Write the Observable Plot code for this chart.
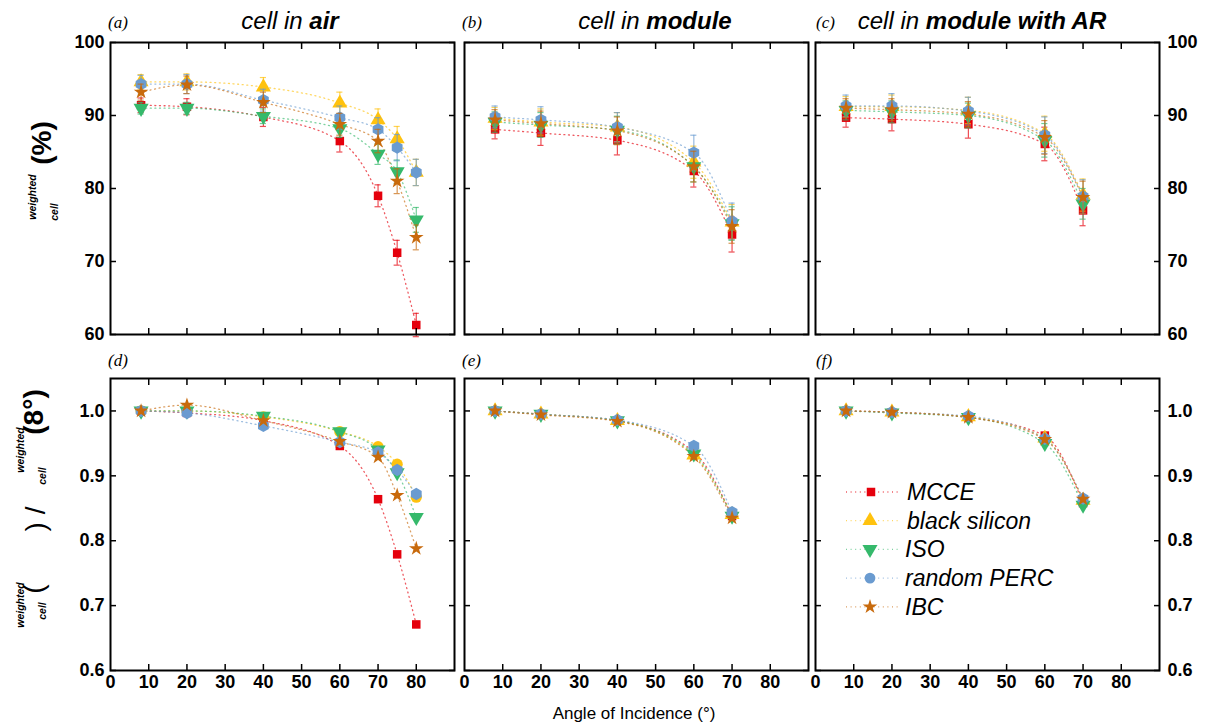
<!DOCTYPE html>
<html><head><meta charset="utf-8">
<script src="https://cdn.jsdelivr.net/npm/d3@7"></script>
<script src="https://cdn.jsdelivr.net/npm/@observablehq/plot@0.6"></script>
<style>
body{margin:0;background:#fff;}
#fig{position:relative;width:1207px;height:725px;overflow:hidden;font-family:"Liberation Sans",Arial,sans-serif;}
#overlay{position:absolute;left:0;top:0;pointer-events:none;}
</style></head><body><div id="fig"></div>
<script>
// ---- data ----
const seriesNames = ["MCCE", "black silicon", "ISO", "random PERC", "IBC"];
const seriesColors = ["#e5000c", "#ffc20e", "#35b96b", "#6a9bd0", "#c86a0c"];
const anglesAir = [8, 20, 40, 60, 70, 75, 80];
const anglesModule = [8, 20, 40, 60, 70];
const xTickVals = [10, 20, 30, 40, 50, 60, 70, 80];
const xLabelVals = [0, 10, 20, 30, 40, 50, 60, 70, 80];
const effTicks = [60, 70, 80, 90, 100];
const normTicks = [0.6, 0.7, 0.8, 0.9, 1.0];

// (a) cell in air, efficiency (%)
const effAir = [
  [91.4, 91.2, 89.8, 86.5, 79.0, 71.2, 61.3],
  [94.6, 94.6, 93.9, 91.7, 89.4, 86.8, 82.2],
  [91.0, 91.0, 89.9, 88.2, 84.7, 82.3, 75.7],
  [94.3, 94.3, 92.1, 89.7, 88.1, 85.6, 82.2],
  [93.2, 94.2, 91.8, 88.8, 86.5, 81.0, 73.3]
];
const errAir = [
  [1.0, 1.1, 1.3, 1.5, 1.5, 1.7, 1.6],
  [1.0, 1.1, 1.3, 1.5, 1.5, 1.7, 1.8],
  [0.8, 0.8, 1.0, 1.2, 1.4, 1.6, 1.7],
  [1.2, 1.3, 1.5, 1.6, 1.6, 1.8, 1.8],
  [1.1, 1.2, 1.4, 1.5, 1.6, 1.7, 1.7]
];
// (b) cell in module
const effModule = [
  [88.1, 87.6, 86.6, 82.4, 73.7],
  [89.6, 89.1, 88.4, 83.6, 75.4],
  [89.1, 88.7, 88.0, 83.0, 75.2],
  [89.8, 89.4, 88.4, 84.9, 75.5],
  [89.4, 88.9, 87.9, 83.0, 74.8]
];
const errModule = [
  [1.3, 1.7, 2.0, 2.2, 2.4],
  [1.5, 1.8, 2.0, 2.2, 2.4],
  [1.4, 1.7, 1.9, 2.1, 2.3],
  [1.5, 1.8, 2.0, 2.4, 2.5],
  [1.4, 1.7, 1.9, 2.1, 2.3]
];
// (c) cell in module with AR
const effModuleAR = [
  [89.7, 89.5, 88.8, 86.1, 77.0],
  [91.2, 91.2, 90.7, 87.5, 79.1],
  [90.7, 90.5, 90.0, 86.6, 77.9],
  [91.3, 91.3, 90.6, 87.3, 78.9],
  [91.0, 90.8, 90.2, 87.0, 78.8]
];
const errModuleAR = [
  [1.3, 1.6, 1.9, 2.3, 2.1],
  [1.4, 1.6, 1.8, 2.4, 2.2],
  [1.3, 1.5, 1.7, 2.3, 2.1],
  [1.5, 1.7, 1.9, 2.5, 2.3],
  [1.3, 1.5, 1.7, 2.3, 2.2]
];
// (d)(e)(f) normalised to 8°
const normAir = [
  [1.0, 0.997, 0.985, 0.946, 0.864, 0.779, 0.671],
  [1.0, 1.000, 0.991, 0.968, 0.945, 0.918, 0.867],
  [1.0, 1.000, 0.992, 0.968, 0.940, 0.905, 0.836],
  [1.0, 0.997, 0.977, 0.952, 0.936, 0.909, 0.872],
  [1.0, 1.009, 0.985, 0.953, 0.929, 0.870, 0.788]
];
const normModule = [
  [1.0, 0.995, 0.985, 0.937, 0.838],
  [1.0, 0.995, 0.985, 0.932, 0.840],
  [1.0, 0.995, 0.985, 0.934, 0.838],
  [1.0, 0.995, 0.986, 0.946, 0.844],
  [1.0, 0.994, 0.984, 0.930, 0.835]
];
const normModuleAR = [
  [1.0, 0.998, 0.990, 0.962, 0.858],
  [1.0, 0.998, 0.991, 0.958, 0.862],
  [1.0, 0.997, 0.990, 0.950, 0.855],
  [1.0, 0.998, 0.992, 0.957, 0.865],
  [1.0, 0.998, 0.990, 0.956, 0.864]
];

// ---- drawing ----
const triDown = {draw(ctx, size) {
  const y = -Math.sqrt(size / (Math.sqrt(3) * 3));
  ctx.moveTo(0, -y * 2); ctx.lineTo(-Math.sqrt(3) * y, y); ctx.lineTo(Math.sqrt(3) * y, y); ctx.closePath();
}};
const symbols = ["square", "triangle", triDown, "hexagon", "star"];
const radii = [4.8, 5.6, 5.6, 5.4, 4.6];

const FW = 344, FH = 292, ML = 58, MR = 58, MT = 8, MB = 36;
const fig = document.getElementById("fig");
const lineStyle = {strokeWidth: 1.3, strokeDasharray: "1,3.6", strokeOpacity: 0.65};

function panel({left, top, xs, vals, errs, yDomain, yTicks, yFmt, labelsLeft, labelsRight, labelsBottom, syms}) {
  const marks = [];
  seriesNames.forEach((name, i) => {
    const rows = xs.map((x, j) => ({x, y: vals[i][j]}));
    marks.push(Plot.line(rows, {x: "x", y: "y", stroke: seriesColors[i], ...lineStyle, curve: "monotone-x"}));
  });
  seriesNames.forEach((name, i) => {
    const rows = xs.map((x, j) => ({x, y: vals[i][j], e: errs ? errs[i][j] : 0}));
    if (errs) {
      const es = {stroke: seriesColors[i], strokeWidth: 1.2, strokeOpacity: 0.7};
      marks.push(Plot.ruleX(rows, {x: "x", y1: d => d.y - d.e, y2: d => d.y + d.e, ...es}));
      marks.push(Plot.ruleY(rows, {y: d => d.y + d.e, x1: d => d.x - 0.8, x2: d => d.x + 0.8, ...es}));
      marks.push(Plot.ruleY(rows, {y: d => d.y - d.e, x1: d => d.x - 0.8, x2: d => d.x + 0.8, ...es}));
    }
    marks.push(Plot.dot(rows, {x: "x", y: "y", symbol: (syms || symbols)[i], r: radii[i], fill: seriesColors[i], stroke: "none"}));
  });
  const blank = () => "";
  marks.push(
    Plot.axisX({anchor: "bottom", ticks: xTickVals, tickSize: -6, tickFormat: blank, label: null, strokeWidth: 1.5}),
    Plot.axisX({anchor: "top", ticks: xTickVals, tickSize: -6, tickFormat: blank, label: null, strokeWidth: 1.5}),
    Plot.axisY({anchor: "left", ticks: yTicks, tickSize: -6, tickFormat: blank, label: null, strokeWidth: 1.5}),
    Plot.axisY({anchor: "right", ticks: yTicks, tickSize: -6, tickFormat: blank, label: null, strokeWidth: 1.5})
  );
  const fontOpts = {fontSize: 18, fontWeight: "bold", label: null, tickSize: 0};
  if (labelsLeft) marks.push(Plot.axisY({anchor: "left", ticks: yTicks, tickFormat: yFmt, tickPadding: 6, ...fontOpts}));
  if (labelsRight) marks.push(Plot.axisY({anchor: "right", ticks: yTicks, tickFormat: yFmt, tickPadding: 8, ...fontOpts}));
  if (labelsBottom) marks.push(Plot.axisX({anchor: "bottom", ticks: xLabelVals, tickFormat: d3.format("d"), tickPadding: 5, ...fontOpts}));
  marks.push(Plot.frame({stroke: "black", strokeWidth: 2}));
  const svg = Plot.plot({
    width: FW + ML + MR, height: FH + MT + MB,
    marginLeft: ML, marginRight: MR, marginTop: MT, marginBottom: MB,
    x: {domain: [0, 90]}, y: {domain: yDomain},
    style: `position:absolute;left:${left - ML}px;top:${top - MT}px;background:transparent;overflow:visible;color:black;font-family:'Liberation Sans',Arial,sans-serif;`,
    marks
  });
  fig.appendChild(svg);
}

const effFmt = d3.format("d"), normFmt = d3.format(".1f");
const cols = [110, 464, 815];
panel({left: cols[0], top: 42, xs: anglesAir, vals: effAir, errs: errAir, yDomain: [60, 100], yTicks: effTicks, yFmt: effFmt, labelsLeft: true});
panel({left: cols[1], top: 42, xs: anglesModule, vals: effModule, errs: errModule, yDomain: [60, 100], yTicks: effTicks, yFmt: effFmt});
panel({left: cols[2], top: 42, xs: anglesModule, vals: effModuleAR, errs: errModuleAR, yDomain: [60, 100], yTicks: effTicks, yFmt: effFmt, labelsRight: true});
panel({left: cols[0], top: 378, xs: anglesAir, vals: normAir, yDomain: [0.6, 1.05], yTicks: normTicks, yFmt: normFmt, labelsLeft: true, labelsBottom: true,
  syms: ["square", "circle", triDown, "hexagon", "star"]});
panel({left: cols[1], top: 378, xs: anglesModule, vals: normModule, yDomain: [0.6, 1.05], yTicks: normTicks, yFmt: normFmt, labelsBottom: true});
panel({left: cols[2], top: 378, xs: anglesModule, vals: normModuleAR, yDomain: [0.6, 1.05], yTicks: normTicks, yFmt: normFmt, labelsRight: true, labelsBottom: true});

// ---- overlay text & legend ----
const ov = d3.select(fig).append("svg").attr("id", "overlay").attr("width", 1207).attr("height", 725)
  .style("font-family", "'Liberation Sans',Arial,sans-serif");

const titles = [
  {x: 290, pre: "cell in ", bold: "air"},
  {x: 655, pre: "cell in ", bold: "module"},
  {x: 982, pre: "cell in ", bold: "module with AR"}
];
titles.forEach(t => {
  const tx = ov.append("text").attr("x", t.x).attr("y", 29).attr("text-anchor", "middle")
    .attr("font-size", 24).attr("font-style", "italic");
  tx.append("tspan").text(t.pre);
  tx.append("tspan").attr("font-weight", "bold").text(t.bold);
});
const letters = [["(a)", 108, 28], ["(b)", 462, 28], ["(c)", 816, 28], ["(d)", 108, 366], ["(e)", 462, 366], ["(f)", 816, 366]];
letters.forEach(([s, x, y]) => ov.append("text").attr("x", x).attr("y", y).attr("font-family", "'Liberation Serif','DejaVu Serif',serif")
  .attr("font-style", "italic").attr("font-size", 17).text(s));

ov.append("text").attr("x", 634).attr("y", 719).attr("text-anchor", "middle").attr("font-size", 17).text("Angle of Incidence (°)");

function rot(x, y, s, size, weight, style) {
  ov.append("text").attr("transform", `translate(${x},${y}) rotate(-90)`).attr("text-anchor", "middle")
    .attr("dominant-baseline", "central").attr("font-size", size).attr("font-weight", weight || "bold")
    .attr("font-style", style || "normal").text(s);
}
// top y label
rot(41, 143, "(%)", 28, "bold");
rot(32, 197, "weighted", 10.5, "bold", "italic");
rot(54, 212, "cell", 10.5, "bold", "italic");
// bottom y label
rot(33, 412, "(8°)", 28, "bold");
rot(20, 450, "weighted", 10.5, "bold", "italic");
rot(42, 476, "cell", 10.5, "bold", "italic");
rot(35, 519, ")  /", 28, "normal");
rot(33, 589, "(", 28, "normal");
rot(20, 605, "weighted", 10.5, "bold", "italic");
rot(42, 611, "cell", 10.5, "bold", "italic");

// legend
const lg = ov.append("g");
const legendSym = {square: d3.symbolSquare, triangle: d3.symbolTriangle, hexagon: d3.symbolCircle, star: d3.symbolStar};
seriesNames.forEach((name, i) => {
  const y = 492 + i * 28.7;
  lg.append("line").attr("x1", 846).attr("x2", 898).attr("y1", y).attr("y2", y)
    .attr("stroke", seriesColors[i]).attr("stroke-width", 1.3).attr("stroke-dasharray", "1,3.6").attr("stroke-opacity", 0.65);
  const sym = typeof symbols[i] === "string" ? legendSym[symbols[i]] : symbols[i];
  lg.append("path").attr("transform", `translate(${i === 0 ? 871 : 870},${y})`)
    .attr("d", d3.symbol(sym, Math.PI * radii[i] * radii[i])()).attr("fill", seriesColors[i]);
  lg.append("text").attr("x", i < 2 ? 907 : 905).attr("y", y).attr("dominant-baseline", "central")
    .attr("font-size", 23).attr("font-style", "italic").text(name);
});
</script></body></html>
